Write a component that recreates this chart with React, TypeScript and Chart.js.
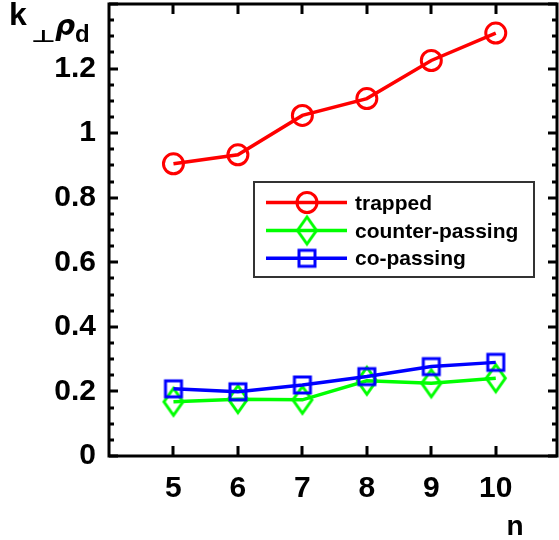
import React, { useEffect, useRef } from 'react';
import { Chart, registerables } from 'chart.js';
Chart.register(...registerables);

const categories = [5, 6, 7, 8, 9, 10];
const trapped = [0.905, 0.933, 1.055, 1.107, 1.225, 1.31];
const counterPassing = [0.168, 0.176, 0.174, 0.233, 0.225, 0.241];
const coPassing = [0.208, 0.199, 0.22, 0.246, 0.277, 0.29];
const seriesNames = ['trapped', 'counter-passing', 'co-passing'];
const seriesColors = ['#ff0000', '#00ff00', '#0000ff'];

function makeSquare(color: string) {
  const c = document.createElement('canvas');
  c.width = 22; c.height = 22;
  const g = c.getContext('2d')!;
  g.strokeStyle = color; g.lineWidth = 3;
  g.strokeRect(3, 3, 16, 16);
  return c;
}
function makeDiamond(color: string) {
  const c = document.createElement('canvas');
  c.width = 26; c.height = 36;
  const g = c.getContext('2d')!;
  g.strokeStyle = color; g.lineWidth = 3; g.lineJoin = 'miter';
  g.beginPath();
  g.moveTo(13, 18 - 13.5); g.lineTo(13 + 9.5, 18); g.lineTo(13, 18 + 13.5); g.lineTo(13 - 9.5, 18);
  g.closePath(); g.stroke();
  return c;
}

export default function App() {
  const ref = useRef<HTMLCanvasElement>(null);
  useEffect(() => {
    const square = makeSquare(seriesColors[2]);
    const diamond = makeDiamond(seriesColors[1]);
    const framePlugin = {
      id: 'frame',
      afterDraw(chart: any) {
        const { ctx, chartArea: a, scales } = chart;
        const x = scales.x, y = scales.y;
        ctx.save();
        ctx.strokeStyle = '#000';
        ctx.lineWidth = 3;
        ctx.beginPath();
        for (let i = 0; i <= 28; i++) {
          const v = i * 0.05;
          const py = Math.round(y.getPixelForValue(v));
          const len = i % 4 === 0 ? 9 : 5;
          ctx.moveTo(a.left, py); ctx.lineTo(a.left + len, py);
          ctx.moveTo(a.right, py); ctx.lineTo(a.right - len, py);
        }
        for (const c of categories) {
          const px = Math.round(x.getPixelForValue(c));
          ctx.moveTo(px, a.bottom); ctx.lineTo(px, a.bottom - 10);
          ctx.moveTo(px, a.top); ctx.lineTo(px, a.top + 10);
        }
        ctx.stroke();
        ctx.strokeRect(a.left, a.top, a.right - a.left, a.bottom - a.top);

        // legend
        ctx.fillStyle = '#fff';
        ctx.fillRect(254, 182, 280, 95);
        ctx.strokeStyle = '#333';
        ctx.lineWidth = 2;
        ctx.strokeRect(254, 182, 280, 95);
        const rows = [202.5, 230.5, 258.3];
        ctx.font = 'bold 21px Arial, "Liberation Sans", sans-serif';
        ctx.textBaseline = 'alphabetic';
        ctx.textAlign = 'left';
        rows.forEach((ry, i) => {
          ctx.strokeStyle = seriesColors[i];
          ctx.lineWidth = 3.5;
          ctx.beginPath(); ctx.moveTo(266, ry); ctx.lineTo(347, ry); ctx.stroke();
          ctx.lineWidth = 3;
          if (i === 0) {
            ctx.beginPath(); ctx.arc(307, ry, 10, 0, Math.PI * 2); ctx.stroke();
          } else {
            const img = i === 1 ? diamond : square;
            ctx.drawImage(img, 307 - img.width / 2, ry - img.height / 2);
          }
          ctx.fillStyle = '#000';
          ctx.fillText(seriesNames[i], 355, ry + 7);
        });

        // axis titles
        ctx.fillStyle = '#000';
        ctx.font = 'bold 32px Arial, "Liberation Sans", sans-serif';
        ctx.fillText('k', 9, 25);
        ctx.save();
        ctx.translate(31, 42);
        ctx.scale(1.6, 1);
        ctx.font = 'bold 17px "DejaVu Sans"';
        ctx.fillText('⊥', 0, 0);
        ctx.restore();
        ctx.font = 'bold italic 28px "DejaVu Sans"';
        ctx.fillText('ρ', 55, 35);
        ctx.font = 'bold 24px Arial, "Liberation Sans", sans-serif';
        ctx.fillText('d', 75, 42);
        ctx.font = 'bold 28px Arial, "Liberation Sans", sans-serif';
        ctx.textAlign = 'center';
        ctx.fillText('n', 515, 535);
        ctx.restore();
      },
    };
    const mk = (vals: number[]) => categories.map((c, i) => ({ x: c, y: vals[i] }));
    const tickFont = { family: 'Arial, "Liberation Sans", sans-serif', size: 30, weight: 'bold' as const };
    const resetPad = (s: any) => { s.paddingTop = 0; s.paddingBottom = 0; s.paddingLeft = 0; s.paddingRight = 0; };
    const chart = new Chart(ref.current!, {
      type: 'line',
      data: {
        datasets: [
          { label: seriesNames[0], data: mk(trapped), borderColor: seriesColors[0], backgroundColor: 'transparent', borderWidth: 3.5, pointStyle: 'circle', pointRadius: 10, pointBorderWidth: 3, pointBorderColor: seriesColors[0], pointBackgroundColor: 'transparent', order: 2 },
          { label: seriesNames[1], data: mk(counterPassing), borderColor: seriesColors[1], backgroundColor: 'transparent', borderWidth: 3.5, pointStyle: diamond as any, pointRadius: 12, order: 1 },
          { label: seriesNames[2], data: mk(coPassing), borderColor: seriesColors[2], backgroundColor: 'transparent', borderWidth: 3.5, pointStyle: square as any, pointRadius: 10, order: 0 },
        ],
      },
      options: {
        responsive: false,
        animation: false,
        layout: { autoPadding: false, padding: { top: 4, right: 2, left: 0, bottom: 0 } },
        plugins: { legend: { display: false }, tooltip: { enabled: false } },
        scales: {
          x: {
            type: 'linear', min: 4, max: 10.95,
            afterFit: (s: any) => { s.height = 84; resetPad(s); },
            grid: { display: false, drawTicks: false },
            border: { display: false },
            ticks: {
              stepSize: 1, includeBounds: false, autoSkip: false, maxRotation: 0, padding: 15, color: '#000', font: tickFont,
              callback: (v: any) => (categories.includes(Number(v)) ? String(v) : null),
            },
          },
          y: {
            type: 'linear', min: 0, max: 1.4,
            afterFit: (s: any) => { s.width = 109; resetPad(s); },
            grid: { display: false, drawTicks: false },
            border: { display: false },
            ticks: {
              stepSize: 0.2, padding: 13, color: '#000', font: tickFont,
              callback: (v: any) => (Number(v) > 1.3 ? null : String(Number(Number(v).toFixed(1)))),
            },
          },
        },
      },
      plugins: [framePlugin],
    });
    return () => chart.destroy();
  }, []);
  return (
    <div style={{ position: 'absolute', left: 0, top: 0, width: 559, height: 540, background: '#fff' }}>
      <canvas ref={ref} width={559} height={540} style={{ display: 'block' }} />
    </div>
  );
}
